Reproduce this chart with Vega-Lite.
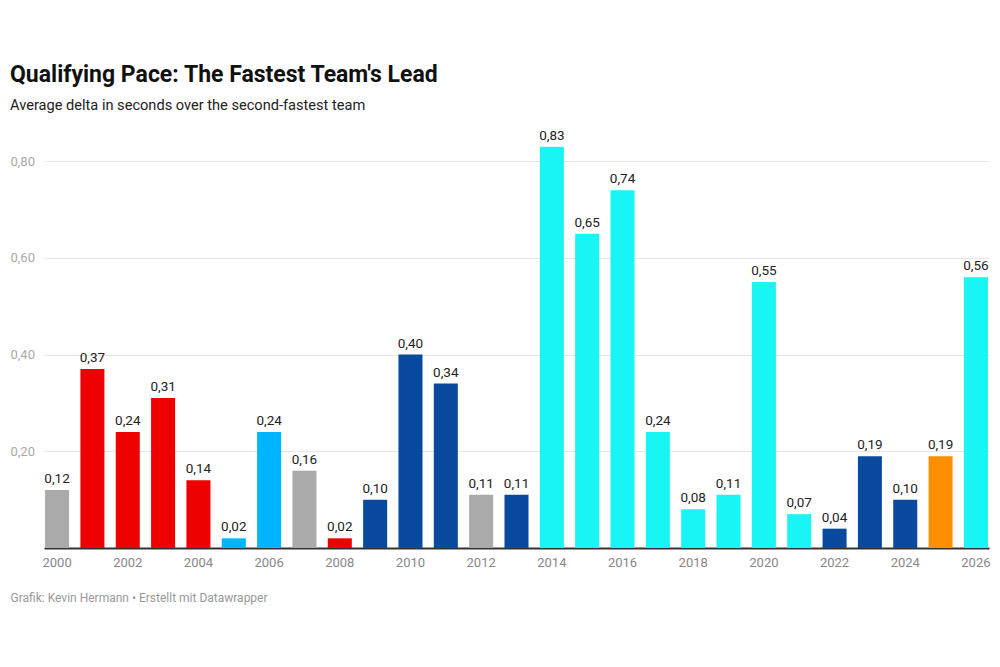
{
  "$schema": "https://vega.github.io/schema/vega-lite/v6.json",
  "width": 945,
  "height": 411,
  "autosize": {"type": "none"},
  "padding": {"left": 44, "top": 137, "right": 11, "bottom": 119},
  "title": {
    "text": "Qualifying Pace: The Fastest Team's Lead",
    "subtitle": "Average delta in seconds over the second-fastest team",
    "anchor": "start",
    "offset": 16,
    "font": "Roboto",
    "fontSize": 23,
    "fontWeight": "bold",
    "color": "#111111",
    "subtitleFont": "Roboto",
    "subtitleFontSize": 14.6,
    "subtitleColor": "#222222",
    "subtitlePadding": 11
  },
  "config": {
    "locale": {"number": {"decimal": ",", "thousands": ".", "grouping": [3], "currency": ["", " €"]}},
    "view": {"stroke": null},
    "font": "Roboto"
  },
  "data": {
    "values": [
      {"year": 2000, "delta": 0.12, "team": "other"},
      {"year": 2001, "delta": 0.37, "team": "ferrari"},
      {"year": 2002, "delta": 0.24, "team": "ferrari"},
      {"year": 2003, "delta": 0.31, "team": "ferrari"},
      {"year": 2004, "delta": 0.14, "team": "ferrari"},
      {"year": 2005, "delta": 0.02, "team": "renault"},
      {"year": 2006, "delta": 0.24, "team": "renault"},
      {"year": 2007, "delta": 0.16, "team": "other"},
      {"year": 2008, "delta": 0.02, "team": "ferrari"},
      {"year": 2009, "delta": 0.10, "team": "redbull"},
      {"year": 2010, "delta": 0.40, "team": "redbull"},
      {"year": 2011, "delta": 0.34, "team": "redbull"},
      {"year": 2012, "delta": 0.11, "team": "other"},
      {"year": 2013, "delta": 0.11, "team": "redbull"},
      {"year": 2014, "delta": 0.83, "team": "mercedes"},
      {"year": 2015, "delta": 0.65, "team": "mercedes"},
      {"year": 2016, "delta": 0.74, "team": "mercedes"},
      {"year": 2017, "delta": 0.24, "team": "mercedes"},
      {"year": 2018, "delta": 0.08, "team": "mercedes"},
      {"year": 2019, "delta": 0.11, "team": "mercedes"},
      {"year": 2020, "delta": 0.55, "team": "mercedes"},
      {"year": 2021, "delta": 0.07, "team": "mercedes"},
      {"year": 2022, "delta": 0.04, "team": "redbull"},
      {"year": 2023, "delta": 0.19, "team": "redbull"},
      {"year": 2024, "delta": 0.10, "team": "redbull"},
      {"year": 2025, "delta": 0.19, "team": "mclaren"},
      {"year": 2026, "delta": 0.56, "team": "mercedes"}
    ]
  },
  "encoding": {
    "x": {
      "field": "year",
      "type": "ordinal",
      "scale": {"paddingInner": 0.32, "paddingOuter": 0.03},
      "axis": {
        "values": [2000, 2002, 2004, 2006, 2008, 2010, 2012, 2014, 2016, 2018, 2020, 2022, 2024, 2026],
        "labelAngle": 0,
        "labelFont": "Roboto",
        "labelFontSize": 13,
        "labelColor": "#888888",
        "labelPadding": 8,
        "ticks": false,
        "domainColor": "#333333",
        "domainWidth": 2,
        "title": "Grafik: Kevin Hermann • Erstellt mit Datawrapper",
        "titleFont": "Roboto",
        "titleFontSize": 12,
        "titleFontWeight": "normal",
        "titleColor": "#999999",
        "titleAnchor": "start",
        "titleAlign": "left",
        "titleBaseline": "alphabetic",
        "titleX": -34,
        "titleY": 53
      }
    },
    "y": {
      "field": "delta",
      "type": "quantitative",
      "scale": {"domain": [0, 0.85], "nice": false},
      "axis": {
        "values": [0.2, 0.4, 0.6, 0.8],
        "format": ".2f",
        "title": null,
        "domain": false,
        "ticks": false,
        "labelAlign": "left",
        "labelPadding": 34,
        "labelFont": "Roboto",
        "labelFontSize": 13,
        "labelColor": "#aaaaaa",
        "gridColor": "#e6e6e6",
        "gridWidth": 1
      }
    }
  },
  "layer": [
    {
      "mark": {"type": "bar"},
      "encoding": {
        "color": {
          "field": "team",
          "type": "nominal",
          "scale": {
            "domain": ["other", "ferrari", "renault", "redbull", "mercedes", "mclaren"],
            "range": ["#aaaaaa", "#ee0000", "#00b4ff", "#0a4a9e", "#19f5f5", "#ff8f00"]
          },
          "legend": null
        }
      }
    },
    {
      "mark": {"type": "text", "baseline": "alphabetic", "dy": -7, "font": "Roboto", "fontSize": 13.5, "color": "#222222"},
      "encoding": {
        "text": {"field": "delta", "type": "quantitative", "format": ".2f"}
      }
    }
  ]
}
